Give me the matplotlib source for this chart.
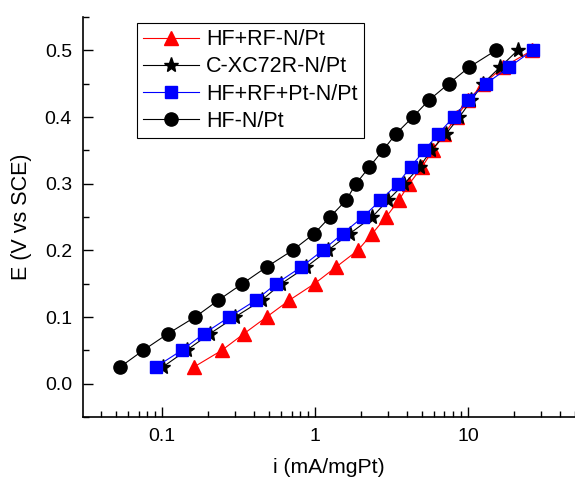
import numpy as np
import matplotlib
matplotlib.use('Agg')
import matplotlib.pyplot as plt
from matplotlib.ticker import FixedLocator, MultipleLocator, LogLocator, NullFormatter, FixedFormatter

plt.rcParams['font.family'] = ['Liberation Sans', 'DejaVu Sans']

# potencial (V vs SCE), mesmo para todas as amostras
E = [0.025, 0.05, 0.075, 0.1, 0.125, 0.15, 0.175, 0.2, 0.225, 0.25,
     0.275, 0.3, 0.325, 0.35, 0.375, 0.4, 0.425, 0.45, 0.475, 0.5]

# corrente (mA/mgPt)
i_hf_rf = [0.161, 0.245, 0.342, 0.481, 0.676, 0.99, 1.37, 1.90, 2.36, 2.91,
           3.52, 4.13, 5.00, 5.87, 7.0, 8.4, 10.0, 12.6, 17.0, 26.2]
i_cxc72 = [0.1006, 0.144, 0.205, 0.299, 0.446, 0.60, 0.873, 1.21, 1.68, 2.36,
           2.98, 3.83, 4.81, 5.73, 7.18, 8.77, 10.5, 12.5, 16.2, 21.1]
i_hf_rf_pt = [0.0906, 0.134, 0.187, 0.274, 0.408, 0.556, 0.81, 1.12, 1.51, 2.05,
              2.67, 3.47, 4.20, 5.18, 6.39, 8.05, 9.94, 13.1, 18.6, 26.4]
i_hf = [0.053, 0.075, 0.109, 0.164, 0.232, 0.334, 0.481, 0.711, 0.984, 1.25,
        1.59, 1.85, 2.26, 2.77, 3.38, 4.35, 5.53, 7.47, 10.2, 15.2]

series = [
    ('HF+RF-N/Pt', i_hf_rf, 'red', '^', 10),
    ('C-XC72R-N/Pt', i_cxc72, 'black', '*', 11),
    ('HF+RF+Pt-N/Pt', i_hf_rf_pt, 'blue', 's', 8),
    ('HF-N/Pt', i_hf, 'black', 'o', 9.5),
]

fig = plt.figure(figsize=(5.75, 4.82), dpi=100)
ax = fig.add_axes([83 / 575, 65 / 482, 492 / 575, 400 / 482])

for nome, corrente, cor, marc, ms in series:
    ax.plot(corrente, E, color=cor, lw=0.8, marker=marc, markersize=ms,
            markerfacecolor=cor, markeredgecolor=cor, label=nome)

ax.set_xscale('log')
ax.set_xlim(0.0303, 50)
ax.set_ylim(-0.05, 0.55)

ax.xaxis.set_major_locator(FixedLocator([0.1, 1, 10]))
ax.xaxis.set_major_formatter(FixedFormatter(['0.1', '1', '10']))
ax.xaxis.set_minor_locator(LogLocator(base=10, subs=np.arange(2, 10), numticks=20))
ax.xaxis.set_minor_formatter(NullFormatter())
ax.yaxis.set_major_locator(MultipleLocator(0.1))
ax.yaxis.set_minor_locator(MultipleLocator(0.05))
ax.yaxis.set_major_formatter(matplotlib.ticker.FormatStrFormatter('%.1f'))

ax.tick_params(which='major', direction='in', length=7, width=1, labelsize=14, pad=8)
ax.tick_params(which='minor', direction='in', length=4, width=1)
ax.spines['top'].set_visible(False)
ax.spines['right'].set_visible(False)
for s in ['left', 'bottom']:
    ax.spines[s].set_linewidth(1.2)

ax.set_xlabel('i (mA/mgPt)', fontsize=15.2, labelpad=9)
ax.set_ylabel('E (V vs SCE)', fontsize=15.5, labelpad=9)

leg = ax.legend(loc='upper left', bbox_to_anchor=(137 / 575, 1 - 23 / 482),
                bbox_transform=fig.transFigure, fontsize=15.5, numpoints=1,
                handlelength=2.6, handletextpad=0.3, labelspacing=0.28,
                borderpad=0.3, borderaxespad=0, fancybox=False, framealpha=1)
leg.get_frame().set_edgecolor('black')
leg.get_frame().set_linewidth(0.8)

plt.savefig('out.png', dpi=100)
